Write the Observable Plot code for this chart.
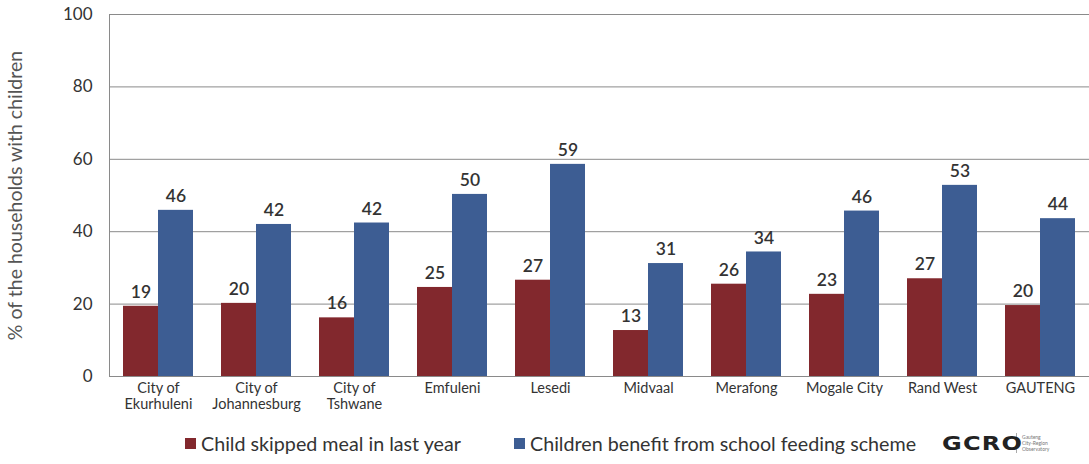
<!DOCTYPE html>
<html>
<head>
<meta charset="utf-8">
<script src="https://cdn.jsdelivr.net/npm/d3@7"></script>
<script src="https://cdn.jsdelivr.net/npm/@observablehq/plot@0.6"></script>
<style>
  html, body { margin: 0; padding: 0; background: #fff; }
  body { width: 1089px; height: 464px; position: relative; overflow: hidden; font-family: Lato, "Open Sans", sans-serif; }
  #chart { position: absolute; left: 0; top: 0; }
  #legend { position: absolute; left: 0; top: 428px; width: 1089px; height: 30px; color: #333; font-size: 19.7px; }
  .item { position: absolute; top: 0; display: flex; align-items: center; height: 30px; }
  .sw { width: 11px; height: 11px; margin-right: 5px; }
  #logo { position: absolute; left: 942px; top: 428px; height: 30px; display: flex; align-items: center; }
  #logo .box { display: inline-block; width: 70px; overflow: visible; white-space: nowrap; }
  #logo .g { display: inline-block; font-size: 20px; font-weight: 700; letter-spacing: 1px; color: #222; transform: scaleX(1.2); transform-origin: left center; font-family: "DejaVu Sans", sans-serif; }
  #logo .sep { width: 1px; height: 20px; background: #aaa; margin-left: 4px; margin-right: 5px; }
  #logo .small { font-size: 5px; line-height: 6px; color: #777; }
</style>
</head>
<body>
<div id="chart"></div>
<div id="legend"></div>
<div id="logo"><span class="box"><span class="g">GCRO</span></span><span class="sep"></span><span class="small">Gauteng<br>City-Region<br>Observatory</span></div>
<script>
const categories = ["City of\nEkurhuleni", "City of\nJohannesburg", "City of\nTshwane", "Emfuleni", "Lesedi", "Midvaal", "Merafong", "Mogale City", "Rand West", "GAUTENG"];
const series = ["Child skipped meal in last year", "Children benefit from school feeding scheme"];
const skippedMeal = [19.4, 20.2, 16.2, 24.6, 26.6, 12.7, 25.5, 22.7, 27.0, 19.6];
const schoolFeeding = [45.9, 42.0, 42.4, 50.3, 58.6, 31.2, 34.4, 45.7, 52.8, 43.6];
const yTicks = [0, 20, 40, 60, 80, 100];
const colors = ["#82282d", "#3d5d93"];

const data = [];
categories.forEach((c, i) => {
  data.push({cat: c, series: series[0], value: skippedMeal[i]});
  data.push({cat: c, series: series[1], value: schoolFeeding[i]});
});

const chart = Plot.plot({
  width: 1089,
  height: 420,
  marginTop: 14,
  marginBottom: 44,
  marginLeft: 109,
  marginRight: 0,
  style: {fontFamily: "Lato, 'Open Sans', sans-serif", color: "#333", background: "#fff"},
  x: {domain: series, paddingInner: 0, paddingOuter: 0.38, axis: null},
  fx: {domain: categories, paddingInner: 0, paddingOuter: 0, label: null},
  y: {domain: [0, 100], ticks: yTicks},
  color: {domain: series, range: colors},
  marks: [
    Plot.gridY(yTicks, {stroke: "#8a8a8a", strokeOpacity: 1, strokeWidth: 1}),
    Plot.frame({anchor: "left", facetAnchor: "left", stroke: "#8a8a8a"}),
    Plot.axisY(yTicks, {tickSize: 0, tickPadding: 17, fontSize: 17, fill: "#333", label: "% of the households with children", labelAnchor: "center", labelArrow: "none", labelOffset: 101}),
    Plot.axisFx({anchor: "bottom", tickSize: 0, tickPadding: 5, fontSize: 14.5, lineHeight: 1.1, fill: "#333", label: null}),
    Plot.barY(data, {fx: "cat", x: "series", y: "value", fill: "series"}),
    Plot.text(data, {fx: "cat", x: "series", y: "value", text: d => d3.format(".0f")(d.value), dy: -14, fontSize: 17.5, fontWeight: 600, fill: "#333"})
  ]
});
chart.querySelectorAll("g[aria-label='y-axis label'] text, g[aria-label='y-axis label']").forEach(el => { el.setAttribute("font-size", 19.5); el.setAttribute("fill", "#555"); });
document.getElementById("chart").appendChild(chart);

const legend = document.getElementById("legend");
const lx = [185, 514];
series.forEach((s, i) => {
  const it = document.createElement("div");
  it.className = "item";
  it.style.left = lx[i] + "px";
  it.innerHTML = `<span class="sw" style="background:${colors[i]}"></span><span>${s}</span>`;
  legend.appendChild(it);
});
</script>
</body>
</html>
